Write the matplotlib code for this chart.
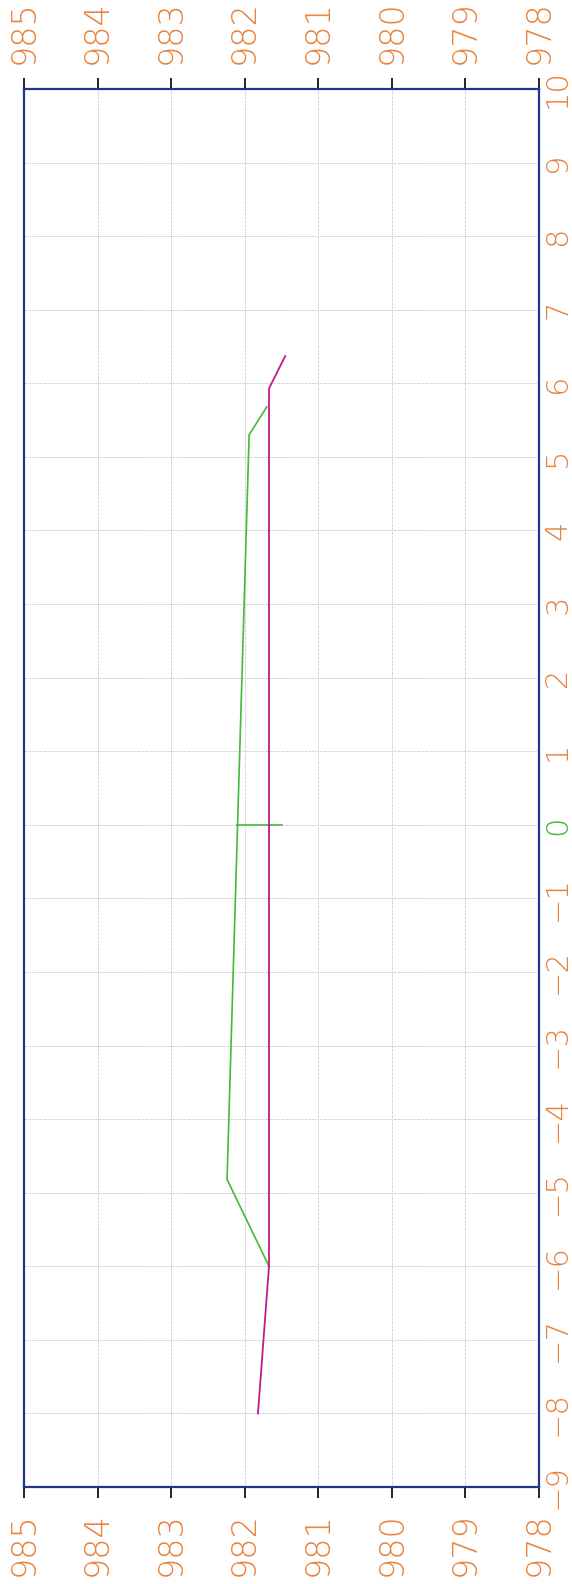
import numpy as np
import matplotlib.pyplot as plt

# profile values (horizontal axis) along the position axis (vertical)
magenta_pos = [-8.0, -6.0, 5.93, 6.37]
magenta_val = [981.82, 981.67, 981.67, 981.45]

green_pos = [-6.0, -4.82, 5.30, 5.68]
green_val = [981.67, 982.24, 981.94, 981.70]

# short marker at the zero position
zero_pos = [0.0, 0.0]
zero_val = [982.11, 981.49]

val_ticks = [985, 984, 983, 982, 981, 980, 979, 978]
pos_ticks = list(range(-9, 11))

orange = "#e8823c"
green = "#46b83a"
magenta = "#c2188c"
navy = "#1f3590"

fig = plt.figure(figsize=(5.72, 15.84), dpi=100)
ax = fig.add_axes([24 / 572, 97 / 1584, 515 / 572, 1398 / 1584])

ax.plot(green_val, green_pos, color=green, lw=1.2, zorder=3)
ax.plot(zero_val, zero_pos, color=green, lw=1.2, zorder=3)
ax.plot(magenta_val, magenta_pos, color=magenta, lw=1.3, zorder=4)

ax.set_xlim(985, 978)
ax.set_ylim(-9, 10)
ax.set_xticks(val_ticks)
ax.set_yticks(pos_ticks)
ax.grid(True, color="#d4d4d4", lw=0.7, ls=(0, (3, 1)))
ax.set_axisbelow(True)

for s in ax.spines.values():
    s.set_color(navy)
    s.set_linewidth(1.6)

ax.tick_params(axis="x", top=True, bottom=True, labeltop=True, labelbottom=True,
               direction="out", length=8, width=1.4, color="#222222", pad=10,
               labelsize=24, labelcolor=orange, labelrotation=90)
ax.tick_params(axis="y", left=False, right=False, labelleft=False, labelright=True,
               length=0, pad=3, labelsize=22, labelcolor=orange, labelrotation=90)

for lab in ax.get_xticklabels() + ax.get_yticklabels():
    lab.set_fontweight("light")
for lab in ax.get_yticklabels():
    lab.set_va("center")
    lab.set_ha("left")
    if lab.get_text() in ("0", "\u22120"):
        lab.set_color(green)

fig.savefig("out.png", dpi=100)
